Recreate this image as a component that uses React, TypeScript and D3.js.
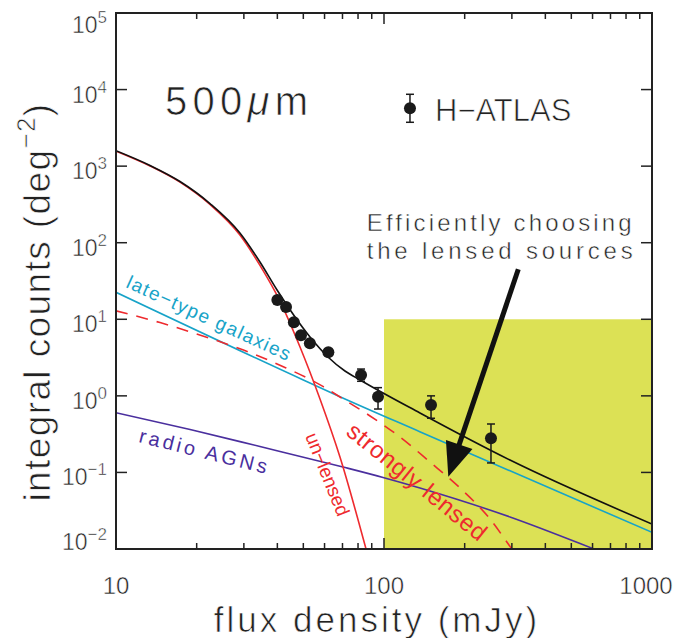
import React from 'react';
import * as d3 from 'd3';

const W = 680;
const H = 638;

// H-ATLAS 500 micron integral counts
const obsFlux = [40.0, 43.1, 46.1, 49.0, 52.9, 62.0, 82.1, 95.0, 149.8, 250.7];
const obsCounts = [17.9, 14.5, 9.14, 6.18, 4.86, 3.71, 1.87, 0.975, 0.76, 0.279];
const obsLow = [16.8, 13.6, 8.6, 5.8, 4.55, 3.45, 1.55, 0.673, 0.51, 0.133];
const obsHigh = [19.1, 15.5, 9.7, 6.6, 5.2, 4.0, 2.24, 1.28, 1.0, 0.429];

// model curves
const totalFlux = [10, 13.4, 17.33, 22.42, 29.0, 34.45, 39.9, 52.96, 61.8, 71.5, 81.4, 136.2, 295.2, 1000];
const totalCounts = [1591, 1020, 630, 325, 134, 56.0, 24.1, 5.87, 3.22, 2.11, 1.61, 0.597, 0.145, 0.0212];

const unlensedFlux = [10, 13.4, 17.33, 22.42, 29.0, 34.45, 40.9, 48.6, 57.7, 68.5, 85.7, 90];
const unlensedCounts = [1570, 1005, 618, 316, 126, 50.5, 17.3, 4.35, 0.91, 0.159, 0.01, 0.0053];

const lensedFlux = [10, 14.6, 22.4, 29.9, 42.1, 59.4, 68.5, 88.7, 114.7, 148.4, 192.1, 248.6, 300, 320];
const lensedCounts = [12.9, 9.05, 5.65, 3.97, 2.40, 1.318, 0.966, 0.546, 0.290, 0.137, 0.0627, 0.0247, 0.01, 0.0074];

const lateFlux = [10, 50, 68.5, 136, 1000];
const lateCounts = [22.5, 1.61, 0.975, 0.34, 0.0165];

const agnFlux = [10, 18.9, 34.45, 70.3, 99.2, 136.2, 295.2, 607.6, 1000];
const agnCounts = [0.603, 0.364, 0.218, 0.1177, 0.0859, 0.0626, 0.0262, 0.01, 0.005];

// highlighted selection region (flux range, counts range)
const boxFlux = [100, 1000];
const boxCounts = [0.01, 10];

// arrow (start, tip) in data units
const arrowFlux = [317, 173.8];
const arrowCounts = [45, 0.0879];

const xTickLabels = ['10', '100', '1000'];
const xTickValues = [10, 100, 1000];
const yTickExps = [5, 4, 3, 2, 1, 0, -1, -2];

const COLORS = {
  total: '#111111',
  unlensed: '#ee2a2e',
  lensed: '#ee2a2e',
  late: '#17a3c8',
  agn: '#4a2f9e',
  box: '#dce155',
  text: '#222222',
};

const FONT = "'Liberation Sans', Arial, sans-serif";
// thin the glyphs slightly to mimic the light line font of the original
const THIN = { stroke: '#ffffff', strokeWidth: 0.7 } as const;

export default function App() {
  const x = d3.scaleLog().domain([10, 1000]).range([116, 652]);
  const y = d3.scaleLog().domain([0.01, 1e5]).range([549, 13]);
  const [x0, x1] = x.range();
  const [y0, y1] = y.range();

  const line = d3
    .line<[number, number]>()
    .x((d) => x(d[0]))
    .y((d) => y(d[1]))
    .curve(d3.curveMonotoneX);

  const zip = (a: number[], b: number[]) => a.map((v, i) => [v, b[i]] as [number, number]);

  const minorX: number[] = [];
  for (const dec of [10, 100]) for (let k = 2; k <= 9; k++) minorX.push(dec * k);

  // arrow geometry
  const ax0 = x(arrowFlux[0]);
  const ay0 = y(arrowCounts[0]);
  const ax1 = x(arrowFlux[1]);
  const ay1 = y(arrowCounts[1]);
  const len = Math.hypot(ax1 - ax0, ay1 - ay0);
  const ux = (ax1 - ax0) / len;
  const uy = (ay1 - ay0) / len;
  const headL = 34;
  const headW = 14;
  const bx = ax1 - ux * headL;
  const by = ay1 - uy * headL;
  const px = -uy;
  const py = ux;

  const rotText = (
    flux: number,
    counts: number,
    angle: number,
    txt: string,
    color: string,
    size: number,
    tl: number
  ) => {
    const tx = x(flux);
    const ty = y(counts);
    return (
      <text
        transform={`translate(${tx},${ty}) rotate(${angle})`}
        fill={color}
        fontSize={size}
        fontFamily={FONT}
        textLength={tl}
        lengthAdjust="spacing"
      >
        {txt}
      </text>
    );
  };

  return (
    <svg
      width={W}
      height={H}
      style={{ position: 'absolute', left: 0, top: 0, background: '#fff' }}
    >
      <defs>
        <clipPath id="plot">
          <rect x={x0} y={y1} width={x1 - x0} height={y0 - y1} />
        </clipPath>
      </defs>

      {/* selection box */}
      <rect
        x={x(boxFlux[0])}
        y={y(boxCounts[1])}
        width={x(boxFlux[1]) - x(boxFlux[0])}
        height={y(boxCounts[0]) - y(boxCounts[1])}
        fill={COLORS.box}
      />

      <g clipPath="url(#plot)" fill="none" strokeWidth={1.6}>
        <path d={line(zip(agnFlux, agnCounts)) || ''} stroke={COLORS.agn} />
        <path d={line(zip(lateFlux, lateCounts)) || ''} stroke={COLORS.late} />
        <path
          d={line(zip(lensedFlux, lensedCounts)) || ''}
          stroke={COLORS.lensed}
          strokeDasharray="12,9"
        />
        <path d={line(zip(unlensedFlux, unlensedCounts)) || ''} stroke={COLORS.unlensed} />
        <path d={line(zip(totalFlux, totalCounts)) || ''} stroke={COLORS.total} />
      </g>

      {/* data points */}
      <g stroke="#1a1a1a" fill="#1a1a1a">
        {obsFlux.map((f, i) => {
          const cx = x(f);
          return (
            <g key={i}>
              <line x1={cx} x2={cx} y1={y(obsLow[i])} y2={y(obsHigh[i])} strokeWidth={1.5} />
              <line x1={cx - 4} x2={cx + 4} y1={y(obsLow[i])} y2={y(obsLow[i])} strokeWidth={1.5} />
              <line x1={cx - 4} x2={cx + 4} y1={y(obsHigh[i])} y2={y(obsHigh[i])} strokeWidth={1.5} />
              <circle cx={cx} cy={y(obsCounts[i])} r={6} stroke="none" />
            </g>
          );
        })}
      </g>

      {/* arrow */}
      <line x1={ax0} y1={ay0} x2={bx + ux * 2} y2={by + uy * 2} stroke="#111" strokeWidth={5} />
      <polygon
        points={`${ax1},${ay1} ${bx + px * headW},${by + py * headW} ${bx - px * headW},${by - py * headW}`}
        fill="#111"
      />

      {/* curve labels */}
      {rotText(10.8, 26.4, 24.5, 'late−type galaxies', COLORS.late, 19, 178)}
      {rotText(12.08, 0.2496, 14, 'radio AGNs', COLORS.agn, 20, 131)}
      {rotText(50.7, 0.299, 68, 'un−lensed', COLORS.unlensed, 19, 88)}
      {rotText(71.5, 0.318, 39, 'strongly lensed', COLORS.lensed, 24, 172)}

      {/* 500 micron label */}
      <text
        x={x(15.23)}
        y={y(4656)}
        fontSize={40}
        fontFamily={FONT}
        fill={COLORS.text}
        textLength={143}
        lengthAdjust="spacing"
        {...THIN}
      >
        500<tspan fontStyle="italic">μ</tspan>m
      </text>

      {/* legend */}
      {(() => {
        const lx = x(125);
        const ly = y(5696);
        return (
          <g>
            <line x1={lx} x2={lx} y1={ly - 14} y2={ly + 14} stroke="#1a1a1a" strokeWidth={1.5} />
            <line x1={lx - 4} x2={lx + 4} y1={ly - 14} y2={ly - 14} stroke="#1a1a1a" strokeWidth={1.5} />
            <line x1={lx - 4} x2={lx + 4} y1={ly + 14} y2={ly + 14} stroke="#1a1a1a" strokeWidth={1.5} />
            <circle cx={lx} cy={ly} r={6} fill="#1a1a1a" />
            <text
              x={x(155)}
              y={ly + 12.4}
              fontSize={31}
              fontFamily={FONT}
              fill={COLORS.text}
              {...THIN}
            >
              H−ATLAS
            </text>
          </g>
        );
      })()}

      {/* annotation text */}
      <text
        x={x(86.2)}
        y={y(143.6)}
        fontSize={24}
        fontFamily={FONT}
        fill={COLORS.text}
        textLength={265}
        lengthAdjust="spacing"
        {...THIN}
        strokeWidth={0.5}
      >
        Efficiently choosing
      </text>
      <text
        x={x(86.2)}
        y={y(60.7)}
        fontSize={24}
        fontFamily={FONT}
        fill={COLORS.text}
        textLength={266}
        lengthAdjust="spacing"
        {...THIN}
        strokeWidth={0.5}
      >
        the lensed sources
      </text>

      {/* axes box */}
      <rect
        x={x0}
        y={y1}
        width={x1 - x0}
        height={y0 - y1}
        fill="none"
        stroke="#222"
        strokeWidth={2}
      />

      {/* ticks */}
      <g stroke="#222" strokeWidth={1.5}>
        {xTickValues.map((v) => (
          <g key={'xm' + v}>
            <line x1={x(v)} x2={x(v)} y1={y0} y2={y0 - 11} />
            <line x1={x(v)} x2={x(v)} y1={y1} y2={y1 + 11} />
          </g>
        ))}
        {minorX.map((v) => (
          <g key={'xn' + v}>
            <line x1={x(v)} x2={x(v)} y1={y0} y2={y0 - 6} />
            <line x1={x(v)} x2={x(v)} y1={y1} y2={y1 + 6} />
          </g>
        ))}
        {yTickExps.map((e) => {
          const yy = y(Math.pow(10, e));
          return (
            <g key={'ym' + e}>
              <line x1={x0} x2={x0 + 11} y1={yy} y2={yy} />
              <line x1={x1} x2={x1 - 11} y1={yy} y2={yy} />
            </g>
          );
        })}
      </g>

      {/* x tick labels */}
      {xTickValues.map((v, i) => (
        <text
          key={'xl' + v}
          x={x(v) - (i === xTickValues.length - 1 ? 6 : 0)}
          y={594}
          textAnchor="middle"
          fontSize={24}
          fontFamily={FONT}
          fill={COLORS.text}
          {...THIN}
          strokeWidth={0.5}
        >
          {xTickLabels[i]}
        </text>
      ))}

      {/* y tick labels */}
      {yTickExps.map((e) => {
        const yy = y(Math.pow(10, e));
        const off = e === 5 ? 20 : e === -2 ? 1 : 13;
        return (
          <text
            key={'yl' + e}
            x={x0 - 9}
            y={yy + off}
            textAnchor="end"
            fontSize={23}
            fontFamily={FONT}
            fill={COLORS.text}
            {...THIN}
            strokeWidth={0.5}
          >
            10
            <tspan dy={-10} fontSize={17}>
              {e < 0 ? '−' + Math.abs(e) : String(e)}
            </tspan>
          </text>
        );
      })}

      {/* axis titles */}
      <text
        x={377}
        y={632}
        textAnchor="middle"
        fontSize={35}
        fontFamily={FONT}
        fill={COLORS.text}
        letterSpacing={3}
        {...THIN}
      >
        flux density (mJy)
      </text>
      <text
        transform="translate(50,302) rotate(-90)"
        textAnchor="middle"
        fontSize={37}
        fontFamily={FONT}
        fill={COLORS.text}
        letterSpacing={1.4}
        {...THIN}
      >
        integral counts (deg
        <tspan dy={-15} fontSize={26}>
          −2
        </tspan>
        <tspan dy={15}>)</tspan>
      </text>
    </svg>
  );
}
